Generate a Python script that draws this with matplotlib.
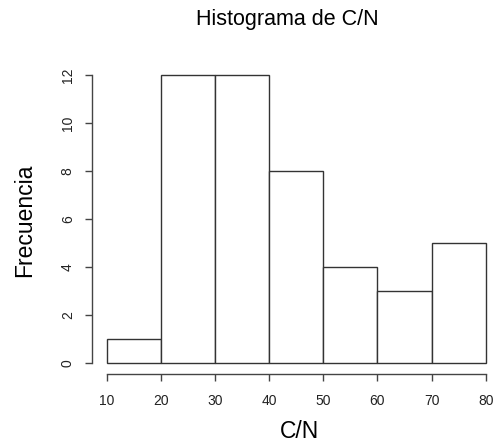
import matplotlib
matplotlib.use("Agg")
import matplotlib.pyplot as plt

# -----------------------------
# DATA (histogram of C/N)
# -----------------------------
bin_edges = [10, 20, 30, 40, 50, 60, 70, 80]
counts = [1, 12, 12, 8, 4, 3, 5]
x_ticks = [10, 20, 30, 40, 50, 60, 70, 80]
y_ticks = [0, 2, 4, 6, 8, 10, 12]

plt.rcParams['font.family'] = ['Liberation Sans', 'DejaVu Sans']

W, H = 498, 447
fig = plt.figure(figsize=(W / 100, H / 100), dpi=100)

# plot region in pixels (R style, 4% padding)
left, right, top, bottom = 91.5, 500.9, 63.5, 374.2
ax = fig.add_axes([left / W, 1 - bottom / H, (right - left) / W, (bottom - top) / H])

lefts = bin_edges[:-1]
widths = [b - a for a, b in zip(bin_edges[:-1], bin_edges[1:])]
ax.bar(lefts, counts, width=widths, align='edge',
       color='white', edgecolor='#333333', linewidth=1.0)

ax.set_xlim(7.2, 82.8)
ax.set_ylim(-0.48, 12.48)

axis_col = '#444444'
for s in ['top', 'right']:
    ax.spines[s].set_visible(False)
ax.spines['left'].set_bounds(0, 12)
ax.spines['bottom'].set_bounds(10, 80)
for s in ['left', 'bottom']:
    ax.spines[s].set_color(axis_col)
    ax.spines[s].set_linewidth(1.0)

ax.set_xticks(x_ticks)
ax.set_yticks(y_ticks)
ax.set_yticklabels([str(v) for v in y_ticks], rotation=90, va='center')
ax.tick_params(axis='both', direction='out', length=5, width=1.0,
               color=axis_col, labelsize=10, labelcolor='#222222')
ax.tick_params(axis='x', pad=9)
ax.tick_params(axis='y', pad=7)

# axis titles and main title (R layout)
fig.text(299 / W, 1 - 432 / H, "C/N", ha='center', va='center', fontsize=16.5)
fig.text(25 / W, 1 - 220 / H, "Frecuencia", ha='center', va='center',
         rotation=90, fontsize=16.5)
fig.text(287 / W, 1 - 20 / H, "Histograma de C/N", ha='center', va='center',
         fontsize=15.5)

fig.savefig("out.png", dpi=100)
